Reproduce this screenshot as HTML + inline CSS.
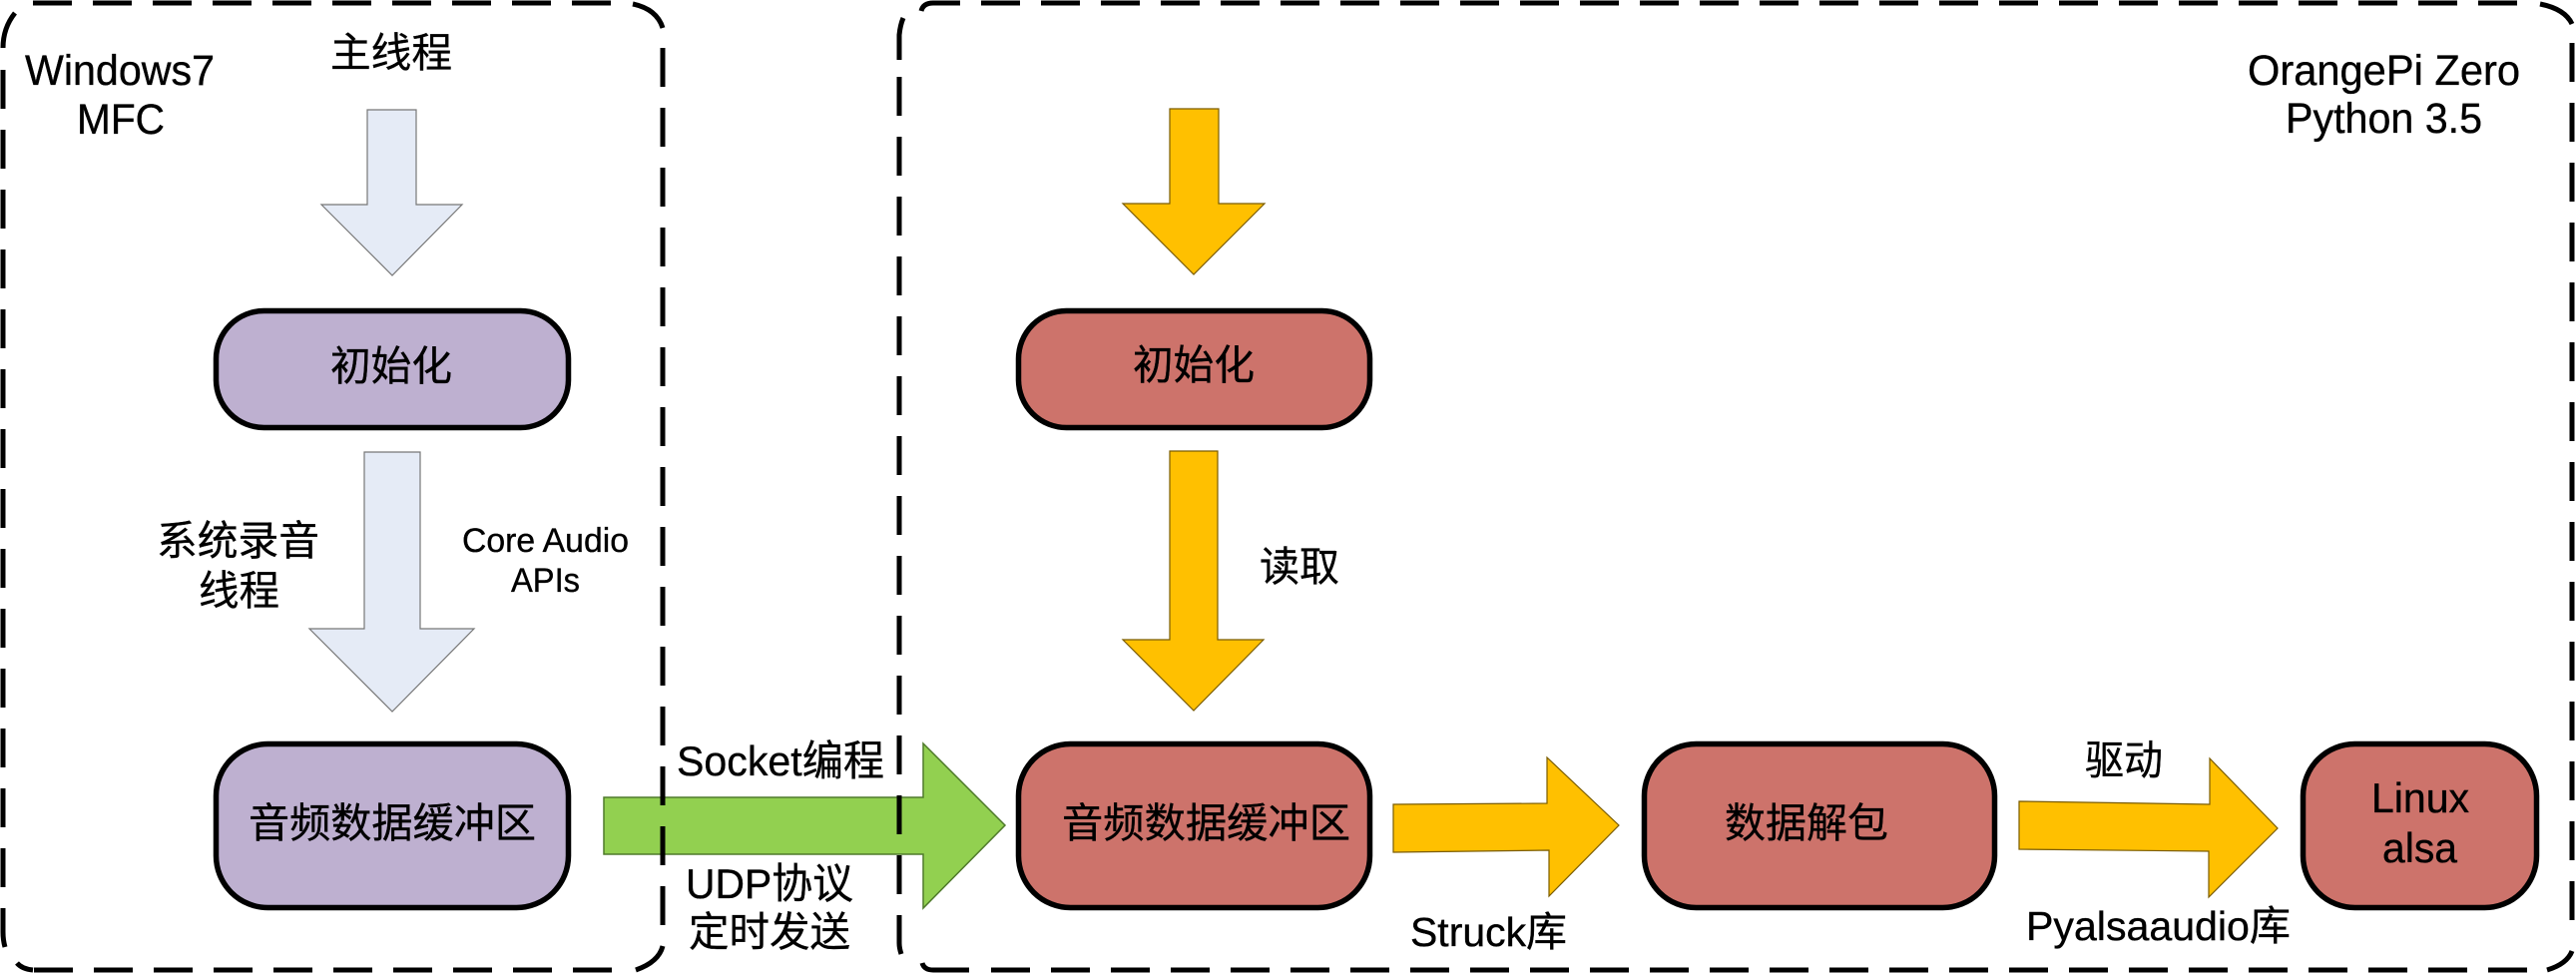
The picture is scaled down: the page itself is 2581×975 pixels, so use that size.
<!DOCTYPE html>
<html><head><meta charset="utf-8"><style>
html,body{margin:0;padding:0;background:#fff;width:2581px;height:975px;overflow:hidden}
svg{display:block}
text{font-family:"Liberation Sans","Noto Sans CJK SC",sans-serif;fill:#000;font-size:40px;stroke:#000;stroke-width:.35px}
.c{font-family:"Noto Sans CJK SC","Liberation Sans",sans-serif}
.d{fill:none;stroke:#000;stroke-width:5}
.n{stroke:#000;stroke-width:5.5}
</style></head><body>
<svg width="2581" height="975" viewBox="0 0 2581 975" xmlns="http://www.w3.org/2000/svg">
<rect width="2581" height="975" fill="#fff"/>

<!-- blue arrows -->
<g fill="#E5EBF6" stroke="#777" stroke-width="1.2">
<path d="M368 110H417V205H463L393 276L322 205H368Z"/>
<path d="M365 453H421V630H475L393 713L310 630H365Z"/>
</g>
<!-- yellow arrows -->
<g fill="#FFC000" stroke="#7a5c00" stroke-width="1.2">
<path d="M1172 109H1221V204H1267L1196 275L1125 204H1172Z"/>
<path d="M1172 452H1220V641H1266L1196 712L1125 641H1172Z"/>
<path d="M1396 806L1550 805V759L1622 827L1552 898V852L1396 854Z"/>
<path d="M2023 803L2214 806V760L2282 830L2213 899V853L2023 851Z"/>
</g>
<!-- green arrow -->
<path d="M605 799H925V745L1007 827L925 910V856H605Z" fill="#92D050" stroke="#4f7a2b" stroke-width="1.5"/>

<!-- nodes -->
<g class="n">
<rect x="216.500" y="311.500" width="353" height="117" rx="48" fill="#BEB0D0"/>
<rect x="216.500" y="745.500" width="353" height="164" rx="52" fill="#BEB0D0"/>
<rect x="1020.500" y="311.500" width="352" height="117" rx="48" fill="#CD736B"/>
<rect x="1020.500" y="745.500" width="352" height="164" rx="52" fill="#CD736B"/>
<rect x="1647.500" y="745.500" width="351" height="164" rx="52" fill="#CD736B"/>
<rect x="2307.500" y="745.500" width="234" height="164" rx="52" fill="#CD736B"/>
</g>

<!-- left dashed box -->
<g class="d">
<path d="M33 3H613" stroke-dasharray="39 21"/>
<path d="M634 4Q658 9 664 28"/>
<path d="M664 48V928" stroke-dasharray="39 21"/>
<path d="M664 948Q660 964 637 972"/>
<path d="M613 972H33" stroke-dasharray="39 21"/>
<path d="M17 965Q22 971 33 972"/>
<path d="M3 70V890" stroke-dasharray="39 21"/>
<path d="M3 910V934Q3 942 5 949"/>
<path d="M3 48Q3 28 15 13"/>
</g>
<!-- right dashed box -->
<g class="d">
<path d="M923 11Q925 3 935 3H962"/>
<path d="M983 3H2523" stroke-dasharray="39 21"/>
<path d="M2545 4Q2570 9 2577 24"/>
<path d="M2577 43V923" stroke-dasharray="39 21"/>
<path d="M2577 953Q2572 966 2552 972"/>
<path d="M2532 972H992" stroke-dasharray="39 21"/>
<path d="M971 972H935Q926 972 924 965"/>
<path d="M901 917V945Q901 950 903 956"/>
<path d="M901 77V897" stroke-dasharray="39 21"/>
<path d="M901 60V35Q902 25 905 18"/>
</g>

<!-- text -->
<text x="25" y="85" style="font-size:43px" textLength="190" lengthAdjust="spacingAndGlyphs">Windows7</text>
<text x="77" y="134" style="font-size:43px" textLength="88" lengthAdjust="spacingAndGlyphs">MFC</text>
<text class="c" x="331" y="67" style="font-size:41px" textLength="122" lengthAdjust="spacingAndGlyphs">主线程</text>
<text class="c" x="331" y="381" style="font-size:41px" textLength="122" lengthAdjust="spacingAndGlyphs">初始化</text>
<text class="c" x="157" y="556" style="font-size:41px" textLength="163" lengthAdjust="spacingAndGlyphs">系统录音</text>
<text class="c" x="199" y="606" style="font-size:41px" textLength="81" lengthAdjust="spacingAndGlyphs">线程</text>
<text x="463" y="553" style="font-size:34px" textLength="167" lengthAdjust="spacingAndGlyphs">Core Audio</text>
<text x="512" y="593" style="font-size:34px" textLength="69" lengthAdjust="spacingAndGlyphs">APIs</text>
<text class="c" x="249" y="839" style="font-size:41px" textLength="288" lengthAdjust="spacingAndGlyphs">音频数据缓冲区</text>
<text x="678" y="777" style="font-size:42px" textLength="208" lengthAdjust="spacingAndGlyphs">Socket<tspan class="c">编程</tspan></text>
<text x="687" y="900" style="font-size:42px" textLength="168" lengthAdjust="spacingAndGlyphs">UDP<tspan class="c">协议</tspan></text>
<text class="c" x="690" y="948" style="font-size:41px" textLength="162" lengthAdjust="spacingAndGlyphs">定时发送</text>

<text class="c" x="1135" y="380" style="font-size:41px" textLength="122" lengthAdjust="spacingAndGlyphs">初始化</text>
<text class="c" x="1262" y="582" style="font-size:41px" textLength="80" lengthAdjust="spacingAndGlyphs">读取</text>
<text class="c" x="1064" y="839" style="font-size:41px" textLength="289" lengthAdjust="spacingAndGlyphs">音频数据缓冲区</text>
<text class="c" x="1728" y="839" style="font-size:41px" textLength="164" lengthAdjust="spacingAndGlyphs">数据解包</text>
<text class="c" x="2089" y="776" style="font-size:41px" textLength="78" lengthAdjust="spacingAndGlyphs">驱动</text>
<text x="1413" y="948" style="font-size:41px" textLength="157" lengthAdjust="spacingAndGlyphs">Struck<tspan class="c">库</tspan></text>
<text x="2030" y="942" style="font-size:41px" textLength="265" lengthAdjust="spacingAndGlyphs">Pyalsaaudio<tspan class="c">库</tspan></text>
<text x="2376" y="814" style="font-size:42px" textLength="98" lengthAdjust="spacingAndGlyphs">Linux</text>
<text x="2387" y="864" style="font-size:42px" textLength="75" lengthAdjust="spacingAndGlyphs">alsa</text>
<text x="2252" y="85" style="font-size:43px" textLength="273" lengthAdjust="spacingAndGlyphs">OrangePi Zero</text>
<text x="2290" y="133" style="font-size:43px" textLength="197" lengthAdjust="spacingAndGlyphs">Python 3.5</text>
</svg>
</body></html>
